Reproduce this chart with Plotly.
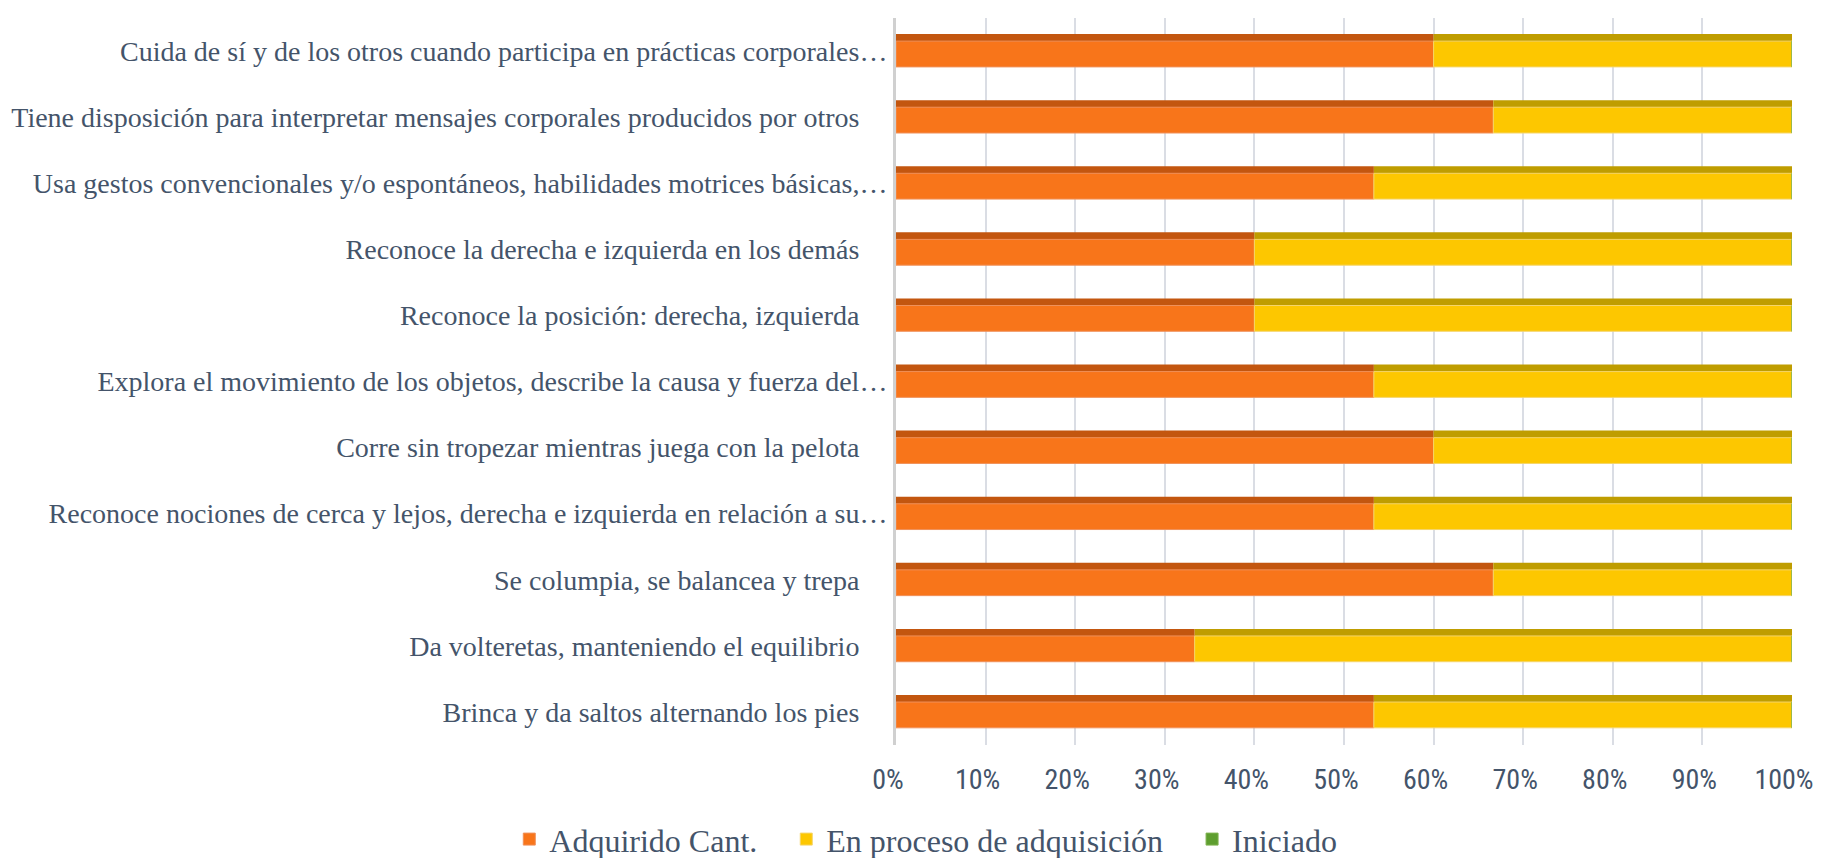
import plotly.graph_objects as go

categories = [
    "Cuida de sí y de los otros cuando participa en prácticas corporales…",
    "Tiene disposición para interpretar mensajes corporales producidos por otros",
    "Usa gestos convencionales y/o espontáneos, habilidades motrices básicas,…",
    "Reconoce la derecha e izquierda en los demás",
    "Reconoce la posición: derecha, izquierda",
    "Explora el movimiento de los objetos, describe la causa y fuerza del…",
    "Corre sin tropezar mientras juega con la pelota",
    "Reconoce nociones de cerca y lejos, derecha e izquierda en relación a su…",
    "Se columpia, se balancea y trepa",
    "Da volteretas, manteniendo el equilibrio",
    "Brinca y da saltos alternando los pies",
]
adquirido = [9, 10, 8, 6, 6, 8, 9, 8, 10, 5, 8]
en_proceso = [6, 5, 7, 9, 9, 7, 6, 7, 5, 10, 7]
iniciado = [0, 0, 0, 0, 0, 0, 0, 0, 0, 0, 0]
series_names = ["Adquirido Cant.", "En proceso de adquisición", "Iniciado"]
tick_vals = [0, 10, 20, 30, 40, 50, 60, 70, 80, 90, 100]
tick_text = ["0%", "10%", "20%", "30%", "40%", "50%", "60%", "70%", "80%", "90%", "100%"]

totals = [a + b + c for a, b, c in zip(adquirido, en_proceso, iniciado)]
p_adq = [a / t * 100 for a, t in zip(adquirido, totals)]
p_proc = [b / t * 100 for b, t in zip(en_proceso, totals)]
p_ini = [c / t * 100 for c, t in zip(iniciado, totals)]
base_proc = p_adq
base_ini = [a + b for a, b in zip(p_adq, p_proc)]

# labels not truncated with an ellipsis keep trailing blank space (as in the source chart)
labels = [c if c.endswith("…") else c + "\u00a0" * 4 for c in categories]

face = ["#F8751A", "#FDC700", "#5E9E2F"]
top = ["#C3560F", "#BF9D00", "#3F6B1F"]
edge = ["#F0915A", "#F5D56A", "#7FB24F"]

W = 0.39
OFF = -0.15
TOP_W = 0.2
TOP_OFF = -0.257
PAD = "\u00a0" * 3

fig = go.Figure()
# "top face" strips (3D look)
for vals, base, c in [(p_adq, [0] * len(p_adq), top[0]), (p_proc, base_proc, top[1])]:
    fig.add_trace(go.Bar(
        y=labels, x=vals, base=base, orientation="h", width=TOP_W, offset=TOP_OFF,
        marker=dict(color=c, line=dict(width=0)), showlegend=False, hoverinfo="skip"))
# main faces
for i, (name, vals, base, c, e) in enumerate([
    (series_names[0], p_adq, [0] * len(p_adq), face[0], edge[0]),
    (series_names[1], p_proc, base_proc, face[1], edge[1]),
    (series_names[2], p_ini, base_ini, face[2], edge[2]),
]):
    fig.add_trace(go.Bar(
        y=labels, x=vals, base=base, orientation="h", width=W, offset=OFF,
        name=name + (PAD if i < 2 else ""), marker=dict(color=c, line=dict(color=e, width=1))))

fig.update_layout(
    barmode="overlay",
    width=1821, height=850,
    margin=dict(l=888, r=37, t=10, b=113),
    plot_bgcolor="white", paper_bgcolor="white",
    font=dict(family="Liberation Serif, Times New Roman, serif", color="#44546A"),
    xaxis=dict(
        range=[0, 100], tickvals=tick_vals, ticktext=tick_text,
        showgrid=True, gridcolor="#DADDE4", gridwidth=2,
        zeroline=False, showline=False, automargin=False,
        tickfont=dict(family="Liberation Sans Narrow, Roboto Condensed, Liberation Sans, sans-serif", size=28, color="#44546A"),
        ticks="", ticklabelstandoff=15, ticklabelshift=-8,
    ),
    yaxis=dict(
        autorange="reversed", showgrid=False, zeroline=False, automargin=False,
        showline=True, linecolor="#D0D0D0", linewidth=3,
        tickfont=dict(size=28, color="#44546A"), ticks="", ticklabelstandoff=0,
    ),
    legend=dict(
        orientation="h", xref="container", yref="container",
        x=0.504, y=0.022, xanchor="center", yanchor="middle",
        font=dict(size=32, color="#44546A"), traceorder="normal",
        itemwidth=30,
    ),
)

fig.write_html("out.html")
